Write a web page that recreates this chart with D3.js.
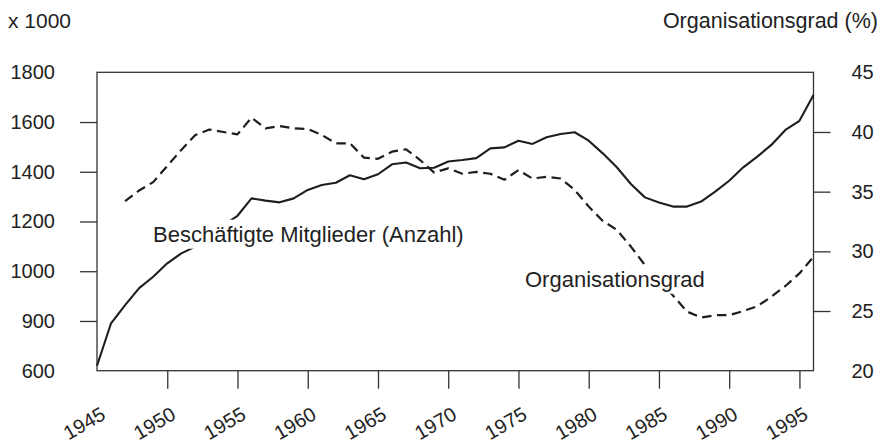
<!DOCTYPE html>
<html>
<head>
<meta charset="utf-8">
<script src="https://cdn.jsdelivr.net/npm/d3@7"></script>
<style>
  body { margin: 0; background: #fff; }
  svg { display: block; font-family: "Liberation Sans", Arial, sans-serif; }
  .axis text { fill: #222; font-size: 20px; }
  .axis line { stroke: #333; stroke-width: 1.3; }
  .axis path { display: none; }
</style>
</head>
<body>
<script>
// Jahre 1945 - 1996
var years = d3.range(1945, 1997);

// Beschäftigte Mitglieder (x 1000), 1945..1996
var mitglieder = [630, 886, 932, 966, 989, 1032, 1072, 1099, 1140, 1185,
                  1223, 1293, 1284, 1277, 1293, 1327, 1347, 1356, 1386, 1370,
                  1390, 1430, 1437, 1414, 1416, 1441, 1447, 1455, 1494, 1498,
                  1525, 1512, 1539, 1552, 1559, 1525, 1474, 1418, 1351, 1297,
                  1276, 1260, 1260, 1280, 1320, 1364, 1418, 1461, 1508, 1568,
                  1605, 1709];

// Organisationsgrad (%), 1947..1996
var gradYears = d3.range(1947, 1997);
var grad = [34.2, 35.1, 35.8, 37.15, 38.5, 39.75, 40.2, 40.0, 39.8, 41.2,
            40.3, 40.5, 40.3, 40.25, 39.75, 39.05, 39.05, 37.85, 37.75, 38.35,
            38.55, 37.65, 36.6, 36.95, 36.5, 36.65, 36.5, 36.0, 36.8, 36.1,
            36.25, 36.1, 35.15, 33.75, 32.55, 31.8, 30.4, 28.85, 27.6, 26.3,
            24.95, 24.45, 24.65, 24.65, 25.0, 25.4, 26.2, 27.1, 28.15, 29.55];

var leftTicks = [600, 900, 1000, 1200, 1400, 1600, 1800];
var rightTicks = [20, 25, 30, 35, 40, 45];
var xTicks = d3.range(1945, 2000, 5);

var svgWidth = 881;
var svgHeight = 441;

var frame = { left: 97, right: 813.5, top: 72.3, bottom: 370.7 };

var svg = d3.select("body")
            .append("svg")
            .attr("width", svgWidth)
            .attr("height", svgHeight);

var x = d3.scaleLinear()
    .domain([1945, 1996])
    .range([frame.left, frame.right]);

// linke Achse: Beschriftung nicht gleichabständig, Ticks aber schon
var step = (frame.bottom - frame.top) / (leftTicks.length - 1);
var yLeft = d3.scaleLinear()
    .domain(leftTicks)
    .range(leftTicks.map((d, i) => frame.bottom - i * step));

var yRight = d3.scaleLinear()
    .domain([20, 45])
    .range([frame.bottom, frame.top]);

// Achsen
var leftAxis = svg.append("g")
    .attr("class", "axis")
    .attr("transform", `translate(${frame.left}, 0)`)
    .call(d3.axisLeft(yLeft).tickValues(leftTicks).tickSize(17).tickPadding(25).tickFormat(d3.format("d")));
leftAxis.selectAll(".tick").filter(d => d === 600 || d === 1800).select("line").remove();

var rightAxis = svg.append("g")
    .attr("class", "axis")
    .attr("transform", `translate(${frame.right}, 0)`)
    .call(d3.axisRight(yRight).tickValues(rightTicks).tickSize(17).tickPadding(21));
rightAxis.selectAll(".tick").filter(d => d === 20 || d === 45).select("line").remove();
rightAxis.selectAll("text").attr("text-anchor", "start");

var bottomAxis = svg.append("g")
    .attr("class", "axis")
    .attr("transform", `translate(0, ${frame.bottom})`)
    .call(d3.axisBottom(x).tickValues(xTicks).tickSize(18).tickFormat(d3.format("d")));
bottomAxis.selectAll(".tick").filter(d => d === 1945).select("line").remove();
bottomAxis.selectAll("text")
    .attr("y", 0)
    .attr("dy", 0)
    .attr("text-anchor", "end")
    .attr("transform", "translate(9.5, 47.5) rotate(-30)");

// Rahmen
svg.append("rect")
    .attr("x", frame.left)
    .attr("y", frame.top)
    .attr("width", frame.right - frame.left)
    .attr("height", frame.bottom - frame.top)
    .attr("fill", "none")
    .attr("stroke", "#333")
    .attr("stroke-width", 1.3);

// Linien
var line1 = d3.line()
    .x((d, i) => x(years[i]))
    .y(d => yLeft(d));

var line2 = d3.line()
    .x((d, i) => x(gradYears[i]))
    .y(d => yRight(d));

svg.append("path")
    .attr("d", line1(mitglieder))
    .attr("fill", "none")
    .attr("stroke", "#1e1e1e")
    .attr("stroke-width", 2.1)
    .attr("stroke-linejoin", "round");

svg.append("path")
    .attr("d", line2(grad))
    .attr("fill", "none")
    .attr("stroke", "#1e1e1e")
    .attr("stroke-width", 2.2)
    .attr("stroke-linejoin", "round")
    .attr("stroke-dasharray", "9.5,5.5");

// Beschriftungen in der Grafik, mit weißem Hintergrund
function label(txt, lx, ly) {
    var g = svg.append("g");
    var t = g.append("text")
        .attr("x", lx)
        .attr("y", ly)
        .attr("font-size", 22)
        .attr("fill", "#222")
        .text(txt);
    var bb = t.node().getBBox();
    g.insert("rect", "text")
        .attr("x", bb.x - 4)
        .attr("y", bb.y - 2)
        .attr("width", bb.width + 8)
        .attr("height", bb.height + 4)
        .attr("fill", "#fff");
}

label("Beschäftigte Mitglieder (Anzahl)", 153, 241.7);
label("Organisationsgrad", 525, 286.7);

// Achsentitel
svg.append("text")
    .attr("x", 8)
    .attr("y", 28)
    .attr("font-size", 21)
    .attr("fill", "#222")
    .text("x 1000");

svg.append("text")
    .attr("x", 878)
    .attr("y", 28)
    .attr("font-size", 21.5)
    .attr("text-anchor", "end")
    .attr("fill", "#222")
    .text("Organisationsgrad (%)");
</script>
</body>
</html>
